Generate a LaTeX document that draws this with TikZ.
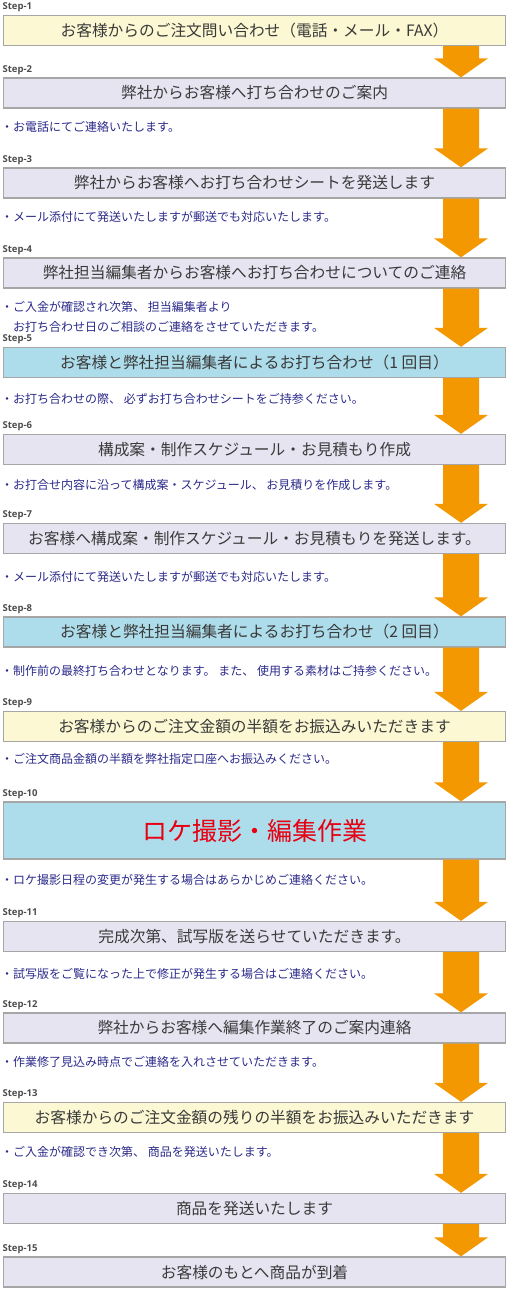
\documentclass[tikz,border=0pt]{standalone}
\usepackage{fontspec}
\setmainfont{Noto Sans CJK JP}
\newfontfamily\stepfont{Open Sans}
\usetikzlibrary{calc}
\definecolor{boxline}{HTML}{A6A6A6}
\definecolor{lemon}{HTML}{FBF8D3}
\definecolor{lilac}{HTML}{E7E4F2}
\definecolor{sky}{HTML}{ADDCEA}
\definecolor{flowor}{HTML}{F39800}
\definecolor{navy}{HTML}{2B2A8A}
\definecolor{ink}{HTML}{3A3A3A}
\definecolor{alert}{HTML}{E60012}
\tikzset{box/.style={draw=boxline, line width=1.3pt, fill=lilac, minimum width=502pt, minimum height=30pt, inner sep=0pt, text=ink, font=\fontsize{15.7}{18}\selectfont},
  lemonbox/.style={box, fill=lemon},
  skybox/.style={box, fill=sky},
  note/.style={anchor=west, inner sep=0pt, text=navy, align=left, font=\fontsize{12}{20}\selectfont},
  steplbl/.style={anchor=base west, inner sep=0pt, text=black!70, font=\stepfont\bfseries\fontsize{9.5}{11}\selectfont},
  flow/.style={fill=flowor}}
% block arrow from the bottom of one box to the top of the next
\newcommand\flowarrow[2]{%
  \fill[flow] ($(#1.south -| ax)+(-18pt,0)$) -- ($(#1.south -| ax)+(18pt,0)$)
    -- ($(#2.north -| ax)+(18pt,19pt)$) -- ($(#2.north -| ax)+(27pt,19pt)$)
    -- (#2.north -| ax) -- ($(#2.north -| ax)+(-27pt,19pt)$)
    -- ($(#2.north -| ax)+(-18pt,19pt)$) -- cycle;}

\begin{document}
\begin{tikzpicture}[x=1pt, y=-1pt]
  \useasboundingbox (0,0) rectangle (509,1292);
  \coordinate (ax) at (461,0);
  % steps
  \node[lemonbox] (b1) at (254.5,30.5) {お客様からのご注文問い合わせ（電話・メール・FAX）};
  \node[box] (b2) at (254.5,93) {弊社からお客様へ打ち合わせのご案内};
  \node[box] (b3) at (254.5,183) {弊社からお客様へお打ち合わせシートを発送します};
  \node[box] (b4) at (254.5,273) {弊社担当編集者からお客様へお打ち合わせについてのご連絡};
  \node[skybox] (b5) at (254.5,362.5) {お客様と弊社担当編集者によるお打ち合わせ（1 回目）};
  \node[box] (b6) at (254.5,449.5) {構成案・制作スケジュール・お見積もり作成};
  \node[box] (b7) at (254.5,538.5) {お客様へ構成案・制作スケジュール・お見積もりを発送します。};
  \node[skybox] (b8) at (254.5,632) {お客様と弊社担当編集者によるお打ち合わせ（2 回目）};
  \node[lemonbox] (b9) at (254.5,726.5) {お客様からのご注文金額の半額をお振込みいただきます};
  \node[skybox, minimum height=57pt, text=alert, font=\fontsize{25}{28}\selectfont] (b10) at (254.5,830.5) {ロケ撮影・編集作業};
  \node[box] (b11) at (254.5,936.5) {完成次第、試写版を送らせていただきます。};
  \node[box] (b12) at (254.5,1028) {弊社からお客様へ編集作業終了のご案内連絡};
  \node[lemonbox] (b13) at (254.5,1117.5) {お客様からのご注文金額の残りの半額をお振込みいただきます};
  \node[box] (b14) at (254.5,1208.5) {商品を発送いたします};
  \node[box] (b15) at (254.5,1272) {お客様のもとへ商品が到着};
  \foreach \i in {1,...,15}
    \node[steplbl] (s\i) at ($(b\i.north west)+(-0.5pt,5pt)$) {Step-\i};
  % notes
  \node[note] (n2) at (1,127) {・お電話にてご連絡いたします。};
  \node[note] (n3) at (1,217) {・メール添付にて発送いたしますが郵送でも対応いたします。};
  \node[note] (n4) at (1,317) {・ご入金が確認され次第、 担当編集者より\\\phantom{・}お打ち合わせ日のご相談のご連絡をさせていただきます。};
  \node[note] (n5) at (1,399) {・お打ち合わせの際、 必ずお打ち合わせシートをご持参ください。};
  \node[note] (n6) at (1,485) {・お打合せ内容に沿って構成案・スケジュール、 お見積りを作成します。};
  \node[note] (n7) at (1,577) {・メール添付にて発送いたしますが郵送でも対応いたします。};
  \node[note] (n8) at (1,671) {・制作前の最終打ち合わせとなります。 また、 使用する素材はご持参ください。};
  \node[note] (n9) at (1,759) {・ご注文商品金額の半額を弊社指定口座へお振込みください。};
  \node[note] (n10) at (1,880) {・ロケ撮影日程の変更が発生する場合はあらかじめご連絡ください。};
  \node[note] (n11) at (1,974) {・試写版をご覧になった上で修正が発生する場合はご連絡ください。};
  \node[note] (n12) at (1,1062) {・作業修了見込み時点でご連絡を入れさせていただきます。};
  \node[note] (n13) at (1,1152) {・ご入金が確認でき次第、 商品を発送いたします。};
  % arrows
  \foreach \i in {1,...,14}{\pgfmathtruncatemacro\j{\i+1}\flowarrow{b\i}{b\j}}
\end{tikzpicture}
\end{document}
